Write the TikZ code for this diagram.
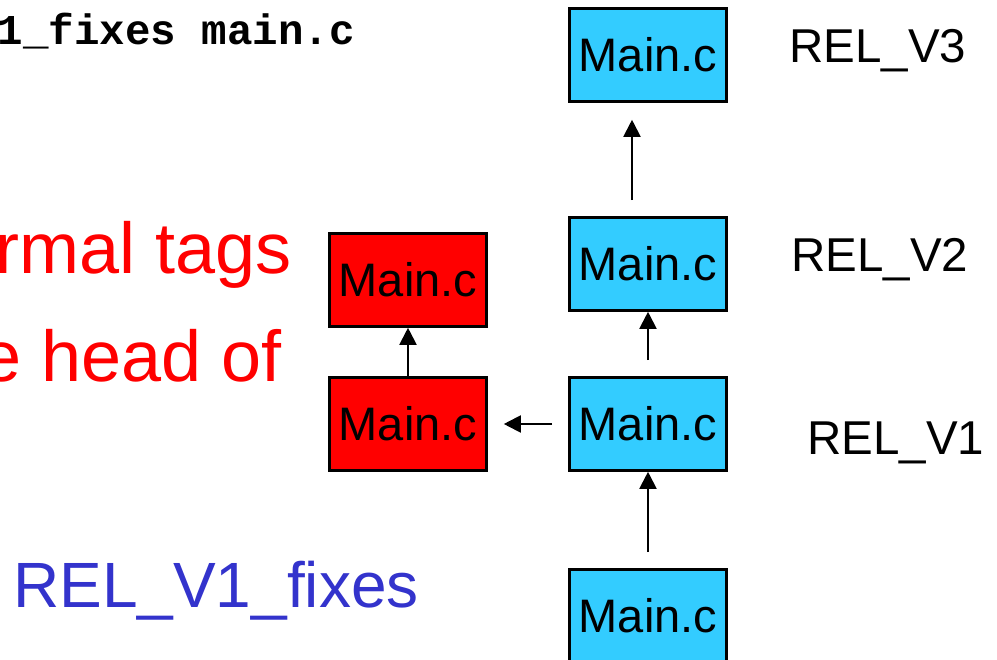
\documentclass[tikz,border=0pt]{standalone}
\usepackage{fontspec}
\setmainfont{Liberation Sans}
\newfontfamily\codefont{Liberation Mono}
\usepackage{xcolor}
\usetikzlibrary{arrows.meta}

\definecolor{relblue}{HTML}{33CCFF}
\definecolor{fixred}{HTML}{FF0000}
\definecolor{tagblue}{HTML}{3333CC}

\tikzset{
  rev/.style={draw=black, line width=2.6pt, minimum width=157pt, minimum height=93pt,
    inner sep=0pt, font=\fontsize{47}{50}\selectfont},
  trunkrev/.style={rev, fill=relblue},
  branchrev/.style={rev, fill=fixred},
  tagname/.style={anchor=base west, inner sep=0pt, font=\fontsize{47.5}{50}\selectfont},
  link/.style={line width=2pt, -{Triangle[length=17pt,width=17pt]}},
}

\begin{document}
\begin{tikzpicture}[x=1pt,y=-1pt]
  \useasboundingbox (0,0) rectangle (997,660);
  \clip (0,0) rectangle (997,660);

  % command line at the top
  \node[anchor=base east, inner sep=0pt, font=\codefont\bfseries\fontsize{42.5}{44}\selectfont]
    (cmd) at (355,45) {1\_fixes main.c};

  % slide text on the left
  \node[anchor=base east, inner sep=0pt, text=fixred, font=\fontsize{72}{80}\selectfont]
    (line1) at (292,274) {rmal tags};
  \node[anchor=base east, inner sep=0pt, text=fixred, font=\fontsize{72}{80}\selectfont]
    (line2) at (282,382) {e head of};
  \node[anchor=base west, inner sep=0pt, text=tagblue, font=\fontsize{64}{70}\selectfont]
    (branch) at (13,607) {REL\_V1\_fixes};

  % trunk revisions
  \node[trunkrev] (v3) at (648,55) {Main.c};
  \node[trunkrev] (v2) at (648,264) {Main.c};
  \node[trunkrev] (v1) at (648,424) {Main.c};
  \node[trunkrev] (v0) at (648,616) {Main.c};

  % branch revisions
  \node[branchrev] (b1) at (408,424) {Main.c};
  \node[branchrev] (b2) at (408,280) {Main.c};

  % tags
  \node[tagname] (t3) at (789,63) {REL\_V3};
  \node[tagname] (t2) at (791,272) {REL\_V2};
  \node[tagname] (t1) at (807,455) {REL\_V1};

  % history
  \draw[link] ([yshift=16pt]v0.north) -- (v1.south);
  \draw[link] ([yshift=16pt]v1.north) -- (v2.south);
  \draw[link] ([xshift=-16pt,yshift=16pt]v2.north) -- ([xshift=-16pt,yshift=-17pt]v3.south);
  \draw[link] ([xshift=-16pt]v1.west) -- ([xshift=16pt]b1.east);
  \draw[link] (b1.north) -- (b2.south);
\end{tikzpicture}
\end{document}
